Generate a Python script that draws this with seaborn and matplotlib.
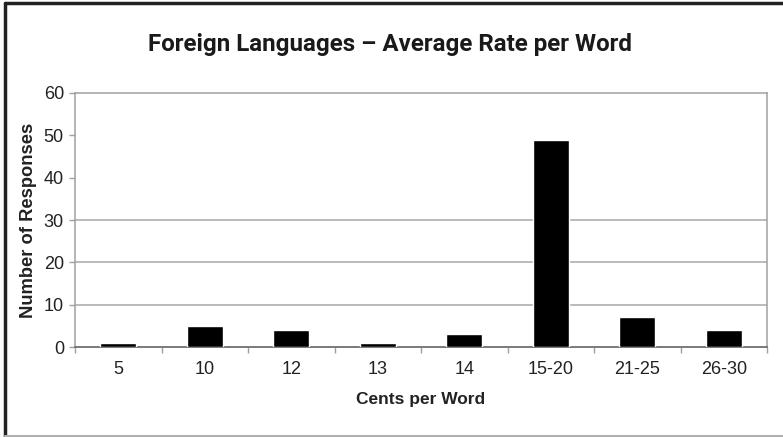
import matplotlib
matplotlib.use("Agg")
import matplotlib.pyplot as plt
import seaborn as sns
import pandas as pd
from matplotlib.lines import Line2D

categories = ["5", "10", "12", "13", "14", "15-20", "21-25", "26-30"]
responses = [1, 5, 4, 1, 3, 49, 7, 4]
y_ticks = [0, 10, 20, 30, 40, 50, 60]
visible_grid = [10, 20, 30]

title = "Foreign Languages \u2013 Average Rate per Word"
x_label = "Cents per Word"
y_label = "Number of Responses"

sns.set_theme(style="white")
plt.rcParams["font.family"] = ["Liberation Sans", "DejaVu Sans"]

df = pd.DataFrame({"cents": categories, "n": responses})

fig = plt.figure(figsize=(7.83, 4.37), dpi=100)
ax = fig.add_axes([0.0958, 0.2059, 0.9796 - 0.0958, 0.7872 - 0.2059])

sns.barplot(data=df, x="cents", y="n", order=categories, color="black",
            width=0.42, saturation=1, ax=ax, zorder=3)

ax.set_ylim(0, 60)
ax.set_xlim(-0.5, len(categories) - 0.5)
ax.set_yticks(y_ticks)
ax.set_yticklabels([str(v) for v in y_ticks])

for v in visible_grid:
    ax.axhline(v, color="#a8a8a8", lw=1.1, zorder=1)

for side in ["top", "right", "left"]:
    ax.spines[side].set_color("#a0a0a0")
    ax.spines[side].set_linewidth(1.1)
    ax.spines[side].set_visible(True)
ax.spines["bottom"].set_color("#707070")
ax.spines["bottom"].set_linewidth(1.3)
ax.spines["bottom"].set_visible(True)

ax.set_xticks(range(len(categories)))
ax.set_xticklabels(categories)
ax.set_xticks([i - 0.5 for i in range(len(categories) + 1)], minor=True)
ax.tick_params(axis="x", which="major", length=0, pad=10, labelsize=13, labelcolor="#222222")
ax.tick_params(axis="x", which="minor", length=4, color="#a0a0a0", width=1, direction="out", bottom=True)
ax.tick_params(axis="y", which="major", length=4, color="#a0a0a0", width=1, direction="out",
               left=True, pad=4, labelsize=13, labelcolor="#222222")

ax.set_xlabel(x_label, fontsize=12.5, fontweight="bold", color="#222222", labelpad=10)
ax.set_ylabel(y_label, fontsize=13.2, fontweight="bold", color="#222222", labelpad=5)

fig.text(0.4975, 0.883, title, ha="center", va="baseline", fontsize=17.4, fontweight="bold",
         color="#1a1a1a", family=["Roboto", "DejaVu Sans"])

# outer frame
fig.add_artist(Line2D([0.006, 0.006], [0.0, 0.994], transform=fig.transFigure, color="#222222", lw=2.5))
fig.add_artist(Line2D([0.006, 1.0], [0.994, 0.994], transform=fig.transFigure, color="#222222", lw=2.5))
fig.add_artist(Line2D([0.006, 1.0], [0.002, 0.002], transform=fig.transFigure, color="#b0b0b0", lw=1.5))

fig.savefig("out.png", dpi=100)
